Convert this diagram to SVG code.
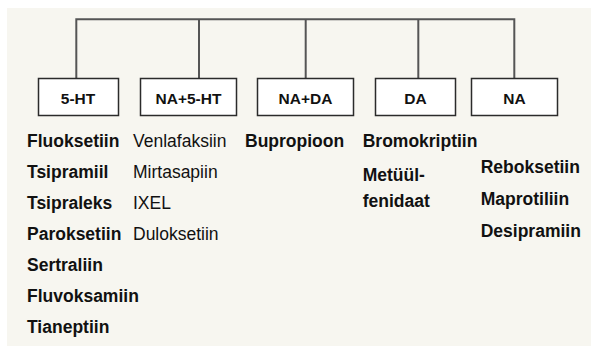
<svg xmlns="http://www.w3.org/2000/svg" width="591" height="346" viewBox="0 0 591 346">
<style>
.bg{fill:#f7f6f0}
.box{fill:#ffffff;stroke:#2b2b2b;stroke-width:1.5}
.lbl{font-family:"Liberation Sans",Arial,sans-serif;font-weight:bold;font-size:15.5px;fill:#111;text-anchor:middle}
.b{font-family:"Liberation Sans",Arial,sans-serif;font-weight:bold;font-size:17.5px;fill:#111}
.r{font-family:"Liberation Sans",Arial,sans-serif;font-size:17.5px;fill:#111}
.conn{fill:none;stroke:#555;stroke-width:2}
</style>
<rect class="bg" x="7" y="8" width="584" height="338"/>
<g id="connectors">
<path class="conn" d="M76.3,78 V19.3 H514.3 V78"/>
<path class="conn" d="M199,19.3 V78"/>
<path class="conn" d="M305.7,19.3 V78"/>
<path class="conn" d="M418.3,19.3 V78"/>
</g>
<g id="n-5ht"><rect class="box" x="38.5" y="78.5" width="80" height="37"/><text class="lbl" x="78" y="104">5-HT</text></g>
<g id="n-na5ht"><rect class="box" x="140.5" y="78.5" width="96" height="37"/><text class="lbl" x="188.5" y="104">NA+5-HT</text></g>
<g id="n-nada"><rect class="box" x="257.5" y="78.5" width="96" height="37"/><text class="lbl" x="305.5" y="104">NA+DA</text></g>
<g id="n-da"><rect class="box" x="375.5" y="78.5" width="80" height="37"/><text class="lbl" x="415.5" y="104">DA</text></g>
<g id="n-na"><rect class="box" x="471.5" y="78.5" width="86" height="37"/><text class="lbl" x="514.5" y="104">NA</text></g>
<g id="list-5ht">
<text class="b" x="27" y="147">Fluoksetiin</text>
<text class="b" x="27" y="178">Tsipramiil</text>
<text class="b" x="27" y="209">Tsipraleks</text>
<text class="b" x="27" y="240">Paroksetiin</text>
<text class="b" x="27" y="271">Sertraliin</text>
<text class="b" x="27" y="302">Fluvoksamiin</text>
<text class="b" x="27" y="333">Tianeptiin</text>
</g>
<g id="list-na5ht">
<text class="r" x="133" y="147">Venlafaksiin</text>
<text class="r" x="133" y="178">Mirtasapiin</text>
<text class="r" x="133" y="209">IXEL</text>
<text class="r" x="133" y="240">Duloksetiin</text>
</g>
<g id="list-nada">
<text class="b" x="245" y="147">Bupropioon</text>
</g>
<g id="list-da">
<text class="b" x="362.7" y="147">Bromokriptiin</text>
<text class="b" x="362.7" y="181">Metüül-</text>
<text class="b" x="362.7" y="207">fenidaat</text>
</g>
<g id="list-na">
<text class="b" x="480.7" y="173">Reboksetiin</text>
<text class="b" x="480.7" y="205">Maprotiliin</text>
<text class="b" x="480.7" y="237">Desipramiin</text>
</g>
</svg>
